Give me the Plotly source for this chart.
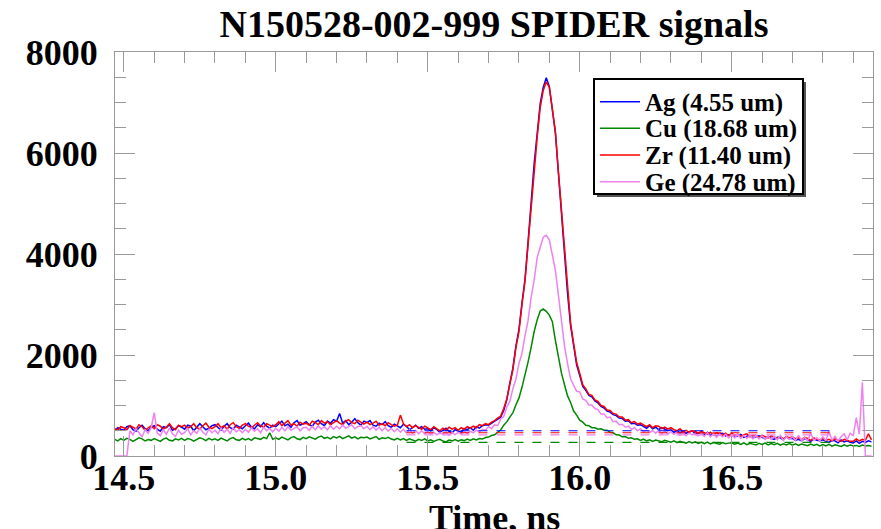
import numpy as np
import plotly.graph_objects as go

# ---------------- data ----------------
t_start = 14.47
t_step = 0.01
n_pts = 250
time_ns = np.round(t_start + t_step * np.arange(n_pts), 2)

series_names = ["Ag (4.55 um)", "Cu (18.68 um)", "Zr (11.40 um)", "Ge (24.78 um)"]
series_colors = ["#0000FF", "#008800", "#FF0000", "#EE82EE"]

ag_rows = [
    [500, 560, 530],
    [510, 580, 600, 520, 490, 560, 610, 540, 500, 570],
    [600, 530, 490, 580, 560, 620, 510, 540, 600, 570],
    [530, 610, 590, 500, 560, 640, 580, 520, 550, 600],
    [620, 560, 510, 590, 640, 560, 530, 610, 580, 540],
    [600, 650, 570, 540, 620, 580, 660, 590, 550, 610],
    [580, 640, 690, 600, 630, 570, 660, 700, 610, 640],
    [680, 620, 590, 670, 710, 640, 600, 690, 650, 720],
    [690, 840, 650, 700, 620, 670, 740, 660, 610, 690],
    [660, 700, 610, 590, 650, 620, 680, 600, 570, 630],
    [600, 560, 630, 590, 520, 570, 610, 550, 580, 530],
    [540, 500, 560, 520, 470, 510, 550, 490, 460, 520],
    [500, 470, 540, 520, 560, 510, 580, 550, 600, 620],
    [610, 650, 690, 720, 770, 900, 1110, 1440, 1740, 2170],
    [2500, 3030, 3500, 4230, 5020, 5780, 6380, 6980, 7300, 7490],
    [7320, 6900, 6400, 5600, 4840, 3900, 3220, 2580, 2180, 1800],
    [1600, 1380, 1300, 1200, 1170, 1090, 1050, 980, 950, 890],
    [870, 820, 800, 750, 740, 690, 700, 640, 650, 610],
    [620, 580, 550, 600, 540, 570, 520, 560, 530, 500],
    [520, 470, 500, 460, 490, 450, 480, 500, 440, 460],
    [450, 420, 470, 410, 440, 390, 430, 450, 400, 420],
    [420, 380, 400, 430, 370, 390, 410, 360, 380, 400],
    [370, 340, 390, 350, 330, 370, 360, 320, 380, 340],
    [350, 310, 330, 300, 350, 320, 290, 340, 310, 300],
    [320, 290, 270, 310, 300, 260, 320, 280, 300, 270],
    [260, 300, 250, 290, 270, 300, 280],
]

cu_rows = [
    [330, 300, 345],
    [310, 350, 330, 290, 320, 360, 340, 300, 325, 310],
    [345, 320, 290, 335, 355, 310, 300, 340, 320, 350],
    [310, 345, 330, 295, 320, 360, 340, 305, 350, 320],
    [340, 310, 355, 330, 300, 345, 365, 320, 310, 350],
    [320, 345, 310, 360, 340, 330, 370, 345, 460, 330],
    [360, 330, 375, 350, 320, 365, 385, 340, 325, 370],
    [345, 380, 360, 335, 375, 395, 350, 370, 340, 385],
    [360, 390, 345, 375, 400, 355, 380, 340, 370, 360],
    [375, 340, 365, 385, 330, 360, 345, 370, 335, 320],
    [350, 320, 345, 310, 340, 325, 295, 330, 310, 340],
    [300, 320, 290, 315, 330, 295, 280, 315, 300, 325],
    [295, 320, 305, 335, 310, 340, 320, 345, 335, 365],
    [375, 405, 420, 470, 515, 610, 675, 770, 855, 1010],
    [1145, 1360, 1595, 1860, 2145, 2460, 2695, 2870, 2910, 2865],
    [2790, 2660, 2290, 1960, 1640, 1410, 1190, 1060, 890, 810],
    [710, 670, 610, 600, 560, 560, 530, 540, 510, 510],
    [470, 460, 420, 415, 380, 385, 350, 360, 330, 340],
    [310, 335, 300, 320, 290, 315, 300, 285, 310, 290],
    [275, 300, 265, 290, 270, 255, 285, 260, 280, 250],
    [270, 245, 275, 240, 265, 250, 235, 265, 245, 255],
    [260, 235, 255, 230, 260, 225, 250, 235, 220, 250],
    [230, 255, 220, 245, 225, 250, 215, 240, 220, 245],
    [215, 240, 210, 235, 220, 205, 235, 210, 230, 200],
    [225, 200, 230, 195, 220, 205, 190, 220, 195, 215],
    [200, 210, 190, 215, 200, 210, 195],
]

zr_rows = [
    [540, 510, 580],
    [560, 520, 600, 570, 530, 620, 580, 510, 560, 600],
    [540, 620, 590, 530, 570, 640, 560, 520, 610, 580],
    [610, 550, 580, 640, 560, 530, 600, 650, 570, 540],
    [580, 640, 560, 600, 530, 620, 660, 580, 550, 610],
    [640, 590, 560, 620, 660, 600, 570, 640, 610, 580],
    [620, 680, 600, 650, 700, 610, 640, 590, 670, 630],
    [650, 610, 690, 660, 620, 700, 650, 680, 620, 660],
    [700, 650, 620, 690, 720, 660, 640, 710, 670, 630],
    [670, 620, 650, 690, 610, 640, 600, 660, 620, 590],
    [610, 810, 640, 580, 620, 560, 600, 570, 530, 590],
    [560, 520, 580, 540, 500, 550, 510, 570, 530, 560],
    [510, 560, 530, 580, 550, 590, 560, 620, 600, 640],
    [620, 670, 700, 750, 790, 940, 1130, 1420, 1700, 2140],
    [2460, 2990, 3460, 4180, 4950, 5730, 6310, 6900, 7240, 7410],
    [7300, 6870, 6420, 5630, 4880, 3960, 3270, 2630, 2230, 1850],
    [1640, 1410, 1330, 1220, 1200, 1110, 1080, 1000, 980, 910],
    [900, 840, 830, 770, 770, 710, 720, 660, 680, 630],
    [650, 610, 580, 620, 560, 600, 590, 540, 570, 530],
    [560, 520, 500, 540, 480, 510, 470, 500, 490, 450],
    [490, 460, 430, 470, 420, 460, 440, 410, 450, 400],
    [450, 410, 430, 390, 420, 440, 380, 410, 400, 370],
    [410, 380, 360, 400, 370, 350, 390, 340, 380, 360],
    [380, 340, 360, 320, 370, 350, 310, 360, 330, 320],
    [350, 310, 330, 300, 340, 320, 290, 330, 310, 290],
    [290, 340, 300, 330, 310, 440, 320],
]

ge_rows = [
    [0, 0, 0],
    [0, 0, 500, 420, 540, 460, 380, 520, 450, 560],
    [860, 460, 400, 520, 430, 550, 440, 390, 510, 430],
    [460, 540, 420, 500, 450, 550, 470, 420, 530, 460],
    [510, 440, 550, 470, 530, 450, 560, 480, 520, 460],
    [530, 470, 560, 490, 540, 460, 570, 500, 550, 480],
    [550, 490, 570, 500, 580, 510, 540, 580, 500, 560],
    [570, 510, 590, 520, 600, 530, 580, 520, 600, 530],
    [590, 540, 610, 550, 580, 620, 540, 580, 600, 540],
    [590, 520, 580, 510, 570, 500, 560, 490, 550, 480],
    [540, 470, 530, 460, 520, 450, 510, 440, 500, 440],
    [480, 430, 470, 420, 460, 430, 470, 410, 470, 420],
    [470, 440, 480, 450, 490, 460, 510, 480, 530, 510],
    [580, 540, 620, 600, 730, 780, 970, 1080, 1330, 1520],
    [1830, 2030, 2380, 2680, 3130, 3480, 3930, 4130, 4330, 4370],
    [4280, 3980, 3680, 3180, 2680, 2180, 1830, 1530, 1400, 1280],
    [1270, 1130, 1100, 1010, 1010, 940, 920, 830, 830, 760],
    [770, 680, 690, 620, 630, 570, 590, 530, 560, 500],
    [540, 480, 510, 470, 500, 450, 510, 440, 490, 430],
    [480, 430, 470, 410, 460, 400, 450, 420, 440, 400],
    [450, 390, 460, 380, 440, 370, 430, 380, 430, 360],
    [420, 360, 430, 350, 410, 350, 410, 340, 400, 340],
    [400, 330, 390, 330, 390, 320, 410, 310, 380, 330],
    [380, 310, 410, 300, 370, 300, 450, 310, 360, 300],
    [380, 300, 490, 310, 390, 300, 380, 440, 320, 450],
    [400, 760, 430, 1460, 0, 0, 0],
]


def flat(rows):
    out = [v for r in rows for v in r]
    assert len(out) == n_pts, len(out)
    return out


ag = flat(ag_rows)
cu = flat(cu_rows)
zr = flat(zr_rows)
ge = flat(ge_rows)
signals = [ag, cu, zr, ge]

# dashed background levels (one per channel)
baseline_levels = [500, 270, 460, 420]
baseline_t = [15.43, 16.83]

x_range = [14.471, 16.965]
y_range = [0, 8000]

# ---------------- figure ----------------
FONT = "Liberation Serif"
fig = go.Figure()

for name, col, sig in zip(series_names, series_colors, signals):
    fig.add_trace(go.Scatter(x=time_ns, y=sig, mode="lines", name=name,
                             line=dict(color=col, width=1.5), showlegend=False))

for col, lvl in zip(series_colors, baseline_levels):
    fig.add_trace(go.Scatter(x=baseline_t, y=[lvl, lvl], mode="lines",
                             line=dict(color=col, width=1.2, dash="dash"),
                             showlegend=False, hoverinfo="skip"))

# layout geometry (pixels)
W, H = 881, 529
L, R, T, B = 115, 8, 52, 73
pw, ph = W - L - R, H - T - B


def px_x(px):
    return (px - L) / pw


def px_y(py):
    return (H - B - py) / ph


axis_col = "#9a9a9a"
tick_font = dict(family=FONT, size=36, color="black", weight="bold")
common_axis = dict(showline=True, linecolor=axis_col, linewidth=1, mirror="allticks",
                   ticks="inside", tickcolor=axis_col, tickwidth=1, ticklen=20,
                   showgrid=False, zeroline=False, tickfont=tick_font)

fig.update_xaxes(range=x_range, tick0=14.5, dtick=0.5, tickformat=".1f",
                 ticklabelstandoff=-10,
                 minor=dict(dtick=0.1, ticklen=11, ticks="inside", tickcolor=axis_col),
                 **common_axis)
fig.update_yaxes(range=y_range, tick0=0, dtick=2000, ticklabelstandoff=9,
                 minor=dict(dtick=500, ticklen=11, ticks="inside", tickcolor=axis_col),
                 **common_axis)

# legend box (drawn manually)
bx0, bx1, by0, by1 = 594, 803, 79, 194
shapes = [
    dict(type="rect", xref="paper", yref="paper", layer="above",
         x0=px_x(bx0 + 3), x1=px_x(bx1 + 3), y0=px_y(by1 + 3), y1=px_y(by0 + 3),
         fillcolor="#555555", line=dict(width=0)),
    dict(type="rect", xref="paper", yref="paper", layer="above",
         x0=px_x(bx0), x1=px_x(bx1), y0=px_y(by1), y1=px_y(by0),
         fillcolor="white", line=dict(color="black", width=2)),
]
annotations = []
row_y = [101.7, 128.3, 155.0, 181.7]
for name, col, ry in zip(series_names, series_colors, row_y):
    shapes.append(dict(type="line", xref="paper", yref="paper", layer="above",
                       x0=px_x(600), x1=px_x(640), y0=px_y(ry), y1=px_y(ry),
                       line=dict(color=col, width=1.5)))
    annotations.append(dict(text=name, xref="paper", yref="paper", x=px_x(643), y=px_y(ry + 1),
                            xanchor="left", yanchor="middle", showarrow=False,
                            font=dict(family=FONT, size=25, color="black", weight="bold")))

# x-axis title
annotations.append(dict(text="Time, ns", xref="paper", yref="paper", x=0.5, y=px_y(496),
                        xanchor="center", yanchor="top", showarrow=False,
                        font=dict(family=FONT, size=36, color="black", weight="bold")))

fig.update_layout(
    width=W, height=H,
    margin=dict(l=L, r=R, t=T, b=B, autoexpand=False),
    paper_bgcolor="white", plot_bgcolor="white",
    font=dict(family=FONT, color="black"),
    title=dict(text="N150528-002-999 SPIDER signals", x=0.5, xref="paper", xanchor="center",
               y=1 - 24 / H, yref="container", yanchor="middle",
               font=dict(family=FONT, size=38, color="black", weight="bold")),
    shapes=shapes, annotations=annotations, showlegend=False,
)

fig.write_html("out.html")
